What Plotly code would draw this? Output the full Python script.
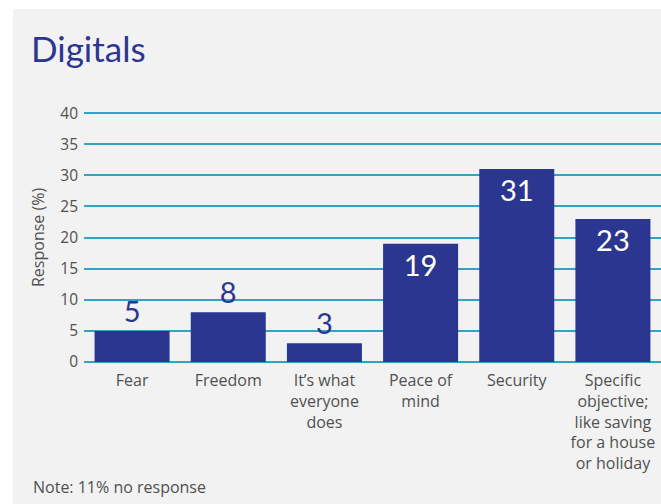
import plotly.graph_objects as go

categories = ["Fear", "Freedom", "It’s what<br>everyone<br>does", "Peace of<br>mind", "Security",
              "Specific<br>objective;<br>like saving<br>for a house<br>or holiday"]
values = [5, 8, 3, 19, 31, 23]
tick_vals = [0, 5, 10, 15, 20, 25, 30, 35, 40]

BAR = "#2b3691"
GRID = "#34a3c3"
TXT = "#505050"
FONT = "Lato"
TFONT = "Open Sans"

W, H = 661, 504
L, R, T, B = 84, 0, 110, 142
pw, ph = W - L - R, H - T - B

def px_to_paper_x(px):
    return (px - L) / pw

def px_to_paper_y(py):
    return (H - B - py) / ph

positions = ["outside" if v < 10 else "inside" for v in values]
colors = [BAR if v < 10 else "white" for v in values]

fig = go.Figure(go.Bar(
    x=categories, y=values,
    marker=dict(color=BAR, line=dict(width=0)),
    text=[str(v) for v in values],
    textposition=positions,
    insidetextanchor="end",
    textangle=0,
    textfont=dict(family=FONT, size=29, color=colors),
    cliponaxis=False,
))

fig.update_layout(
    width=W, height=H, autosize=False,
    margin=dict(l=L, r=R, t=T, b=B),
    paper_bgcolor="white",
    plot_bgcolor="rgba(0,0,0,0)",
    bargap=0.22,
    showlegend=False,
    font=dict(family=TFONT, color=TXT, size=16),
    xaxis=dict(showgrid=False, showline=False, zeroline=False, ticks="",
               tickfont=dict(family=TFONT, size=16, color=TXT), ticklabelstandoff=7),
    yaxis=dict(range=[0, 40.5], tickvals=tick_vals, showgrid=True, gridcolor=GRID, gridwidth=1.5,
               zeroline=True, zerolinecolor=GRID, zerolinewidth=1.5, showline=False, ticks="",
               tickfont=dict(family=TFONT, size=15.5, color=TXT), ticklabelstandoff=5),
    shapes=[dict(type="rect", xref="paper", yref="paper", layer="below",
                 x0=px_to_paper_x(13), x1=px_to_paper_x(W + 5),
                 y0=px_to_paper_y(H + 5), y1=px_to_paper_y(9),
                 fillcolor="#f2f2f2", line=dict(width=0))],
    annotations=[
        dict(text="Digitals", xref="paper", yref="paper", x=px_to_paper_x(29), y=px_to_paper_y(48),
             xanchor="left", yanchor="middle", showarrow=False,
             font=dict(family=FONT, size=35, color=BAR)),
        dict(text="Response (%)", xref="paper", yref="paper", x=px_to_paper_x(38), y=px_to_paper_y(238),
             xanchor="center", yanchor="middle", textangle=-90, showarrow=False,
             font=dict(family=TFONT, size=16, color=TXT)),
        dict(text="Note: 11% no response", xref="paper", yref="paper", x=px_to_paper_x(31), y=px_to_paper_y(487),
             xanchor="left", yanchor="middle", showarrow=False,
             font=dict(family=TFONT, size=16, color=TXT)),
    ],
)

fig.write_html("out.html", config={"displayModeBar": False},
               post_script="document.body.style.margin='0';document.body.style.overflow='hidden';")
